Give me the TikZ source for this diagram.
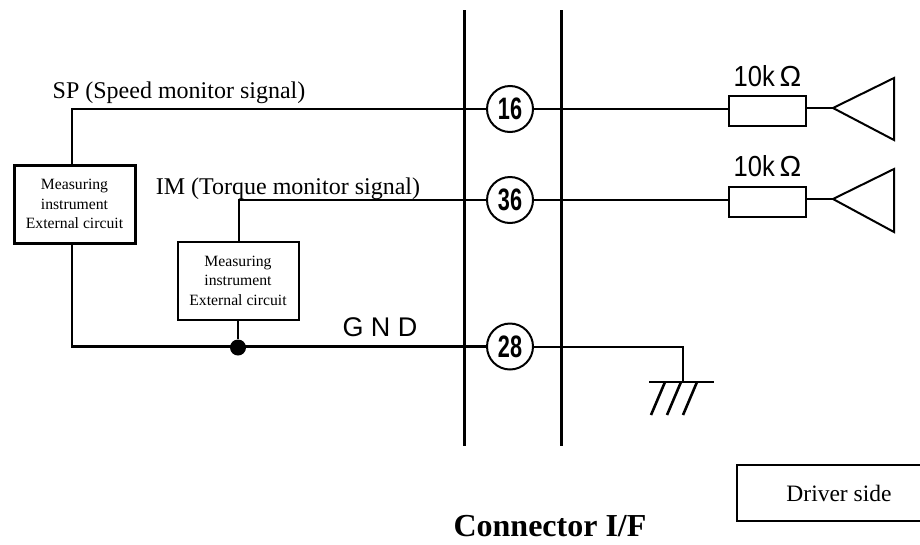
\documentclass[tikz,border=0pt]{standalone}
\usepackage{fontspec}
\usepackage{graphicx}
\setmainfont{Liberation Serif}
\newfontfamily\gothfont{Liberation Sans}
\usetikzlibrary{positioning}
\newcommand{\pinnum}[1]{\scalebox{.7}[1]{\bfseries #1}}
\tikzset{
    wire/.style={line width=2pt},
    heavywire/.style={line width=2.6pt},
    pin/.style={circle,draw,line width=2pt,minimum size=46pt,inner sep=0pt,font=\gothfont\fontsize{31}{31}\selectfont},
    measure/.style={draw,align=center,inner sep=0pt,minimum width=121pt,minimum height=78pt,font=\fontsize{15.7}{19.6}\selectfont},
    resistor/.style={draw,line width=2pt,inner sep=0pt,minimum width=77pt,minimum height=30pt},
    ohms/.style={inner sep=0pt,font=\gothfont\fontsize{29}{29}\selectfont},
    siglabel/.style={inner sep=0pt,anchor=base,font=\fontsize{24}{24}\selectfont}
}
\begin{document}
\begin{tikzpicture}[x=1pt,y=-1pt]
    \useasboundingbox (0,0) rectangle (920,544);
    \coordinate (barAtop) at (464,10);
    \coordinate (barAbot) at (464,446);
    \coordinate (barBtop) at (561,10);
    \coordinate (barBbot) at (561,446);
    \node[pin] (pin16) at (510,109) {\pinnum{16}};
    \node[pin] (pin36) at (510,200) {\pinnum{36}};
    \node[pin] (pin28) at (510,346.5) {\pinnum{28}};
    \node[measure,line width=3pt] (meas1) at (74.5,204) {Measuring\\instrument\\External circuit};
    \node[measure,line width=2pt] (meas2) at (238,280.5) {Measuring\\instrument\\External circuit};
    \node[circle,fill,inner sep=0pt,minimum size=16pt] (join) at (238,347.5) {};
    \node[resistor] (res16) at (767.5,111) {};
    \node[resistor] (res36) at (767.5,202) {};
    \node[ohms,above=8pt of res16] (ohm16) {\scalebox{.88}[1]{10k}\,Ω};
    \node[ohms,above=9pt of res36] (ohm36) {\scalebox{.88}[1]{10k}\,Ω};
    \node[siglabel] (splabel) at (179,98) {SP (Speed monitor signal)};
    \node[siglabel] (imlabel) at (288,194) {IM (Torque monitor signal)};
    \node[inner sep=0pt,font=\gothfont\fontsize{27}{27}\selectfont] (gndlabel) at (380,327) {G N D};
    \node[inner sep=0pt,font=\bfseries\fontsize{32}{32}\selectfont] (connlabel) at (550,526) {Connector I/F};
    \node[draw,line width=2pt,inner sep=0pt,minimum width=204pt,minimum height=56pt,font=\fontsize{23.5}{24}\selectfont] (driver) at (839,493) {Driver side};
    \coordinate (amp16) at (833,108);
    \coordinate (amp36) at (833,199);
    \coordinate (spturn) at (72,109);
    \coordinate (imturn) at (239,200);
    \coordinate (gndturn) at (72,346.5);
    \coordinate (earthturn) at (683,346.5);
    \coordinate (earth) at (683,382);
    \coordinate (earthL) at (649,382);
    \coordinate (earthR) at (714,382);
    \draw[line width=3pt] (barAtop) -- (barAbot);
    \draw[line width=3pt] (barBtop) -- (barBbot);
    \draw[heavywire] (pin16) -- (spturn) -- (spturn |- meas1.north);
    \draw[wire] (pin36) -- (imturn) -- (imturn |- meas2.north);
    \draw[heavywire] (spturn |- meas1.south) -- (gndturn) -- (pin28);
    \draw[heavywire] (meas2.south) -- (join);
    \draw[wire] (pin16) -- (pin16 -| res16.west);
    \draw[wire] (pin36) -- (pin36 -| res36.west);
    \draw[wire] (res16.east |- amp16) -- (amp16);
    \draw[wire] (res36.east |- amp36) -- (amp36);
    \draw[wire,line join=miter] (amp16) -- (894,78) -- (894,140) -- cycle;
    \draw[wire,line join=miter] (amp36) -- (894,169) -- (894,232) -- cycle;
    \draw[wire] (pin28) -- (earthturn) -- (earth);
    \draw[wire] (earthL) -- (earthR);
    \draw[heavywire] (651,415) -- (665,382);
    \draw[heavywire] (667,415) -- (681,382);
    \draw[heavywire] (683,415) -- (697,382);
\end{tikzpicture}
\end{document}
